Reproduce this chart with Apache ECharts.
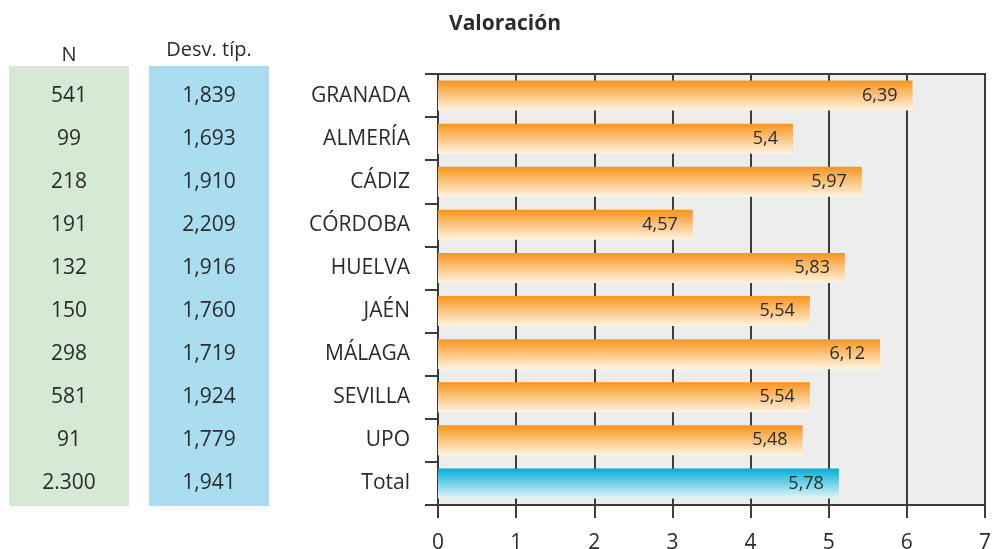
<!DOCTYPE html>
<html>
<head>
<meta charset="utf-8">
<script src="https://cdn.jsdelivr.net/npm/echarts@6/dist/echarts.min.js"></script>
<style>
  html, body { margin: 0; padding: 0; background: #fff; }
  #chart { width: 992px; height: 549px; }
</style>
</head>
<body>
<div id="chart"></div>
<script>
const categories = ['GRANADA', 'ALMERÍA', 'CÁDIZ', 'CÓRDOBA', 'HUELVA', 'JAÉN', 'MÁLAGA', 'SEVILLA', 'UPO', 'Total'];
const valoracion = [6.39, 5.4, 5.97, 4.57, 5.83, 5.54, 6.12, 5.54, 5.48, 5.78];
const nValues = ['541', '99', '218', '191', '132', '150', '298', '581', '91', '2.300'];
const desvValues = ['1,839', '1,693', '1,910', '2,209', '1,916', '1,760', '1,719', '1,924', '1,779', '1,941'];
const axisTicks = [0, 1, 2, 3, 4, 5, 6, 7];
const barScale = [2.46, 6.99];

const FONT = '"Open Sans", sans-serif';
const TXT = '#2b2b2b';
const LINE = '#3c3c3c';

const orangeGrad = new echarts.graphic.LinearGradient(0, 0, 0, 1, [
  { offset: 0, color: '#F8951C' },
  { offset: 1, color: '#FFF4E3' }
]);
const blueGrad = new echarts.graphic.LinearGradient(0, 0, 0, 1, [
  { offset: 0, color: '#00AED6' },
  { offset: 1, color: '#E4F5FB' }
]);

const chart = echarts.init(document.getElementById('chart'), null, { renderer: 'canvas' });

const gridLeft = 438, gridTop = 74, gridRight = 7, gridBottom = 44;

chart.setOption({
  animation: false,
  backgroundColor: '#ffffff',
  title: {
    text: 'Valoración',
    left: 500,
    textAlign: 'center',
    top: 9,
    textStyle: { fontFamily: FONT, fontWeight: 'bold', fontSize: 21, color: TXT }
  },
  graphic: [
    { type: 'rect', shape: { x: 9, y: 66, width: 120, height: 440 }, style: { fill: '#D5E9D5' }, z: -10 },
    { type: 'rect', shape: { x: 149, y: 66, width: 120, height: 440 }, style: { fill: '#AADDEF' }, z: -10 },
    { type: 'text', x: 69, y: 55, style: { text: 'N', fontFamily: FONT, fontSize: 20, fill: TXT, align: 'center', verticalAlign: 'middle' } },
    { type: 'text', x: 209, y: 50, style: { text: 'Desv. típ.', fontFamily: FONT, fontSize: 20, fill: TXT, align: 'center', verticalAlign: 'middle' } }
  ],
  grid: {
    left: gridLeft, top: gridTop, right: gridRight, bottom: gridBottom,
    outerBoundsMode: 'none',
    containLabel: false,
    show: true,
    backgroundColor: '#EDEDED',
    borderColor: LINE,
    borderWidth: 2
  },
  xAxis: [
    {
      type: 'value',
      min: axisTicks[0],
      max: axisTicks[axisTicks.length - 1],
      interval: 1,
      position: 'bottom',
      axisLine: { show: true, lineStyle: { color: LINE, width: 2 } },
      axisTick: { show: true, length: 13, lineStyle: { color: LINE, width: 2 } },
      splitLine: { show: true, lineStyle: { color: LINE, width: 2 } },
      axisLabel: { margin: 28, fontFamily: FONT, fontSize: 21, color: TXT }
    },
    {
      type: 'value',
      min: barScale[0],
      max: barScale[1],
      show: false,
      splitLine: { show: false }
    }
  ],
  yAxis: [
    {
      type: 'category',
      data: categories,
      inverse: true,
      position: 'left',
      axisLine: { show: true, lineStyle: { color: LINE, width: 2 } },
      axisTick: { show: true, length: 13, lineStyle: { color: LINE, width: 2 } },
      axisLabel: { margin: 28, fontFamily: FONT, fontSize: 21, color: TXT, padding: [5, 0, 0, 0] }
    },
    {
      type: 'category',
      data: nValues,
      inverse: true,
      position: 'left',
      axisLine: { show: false },
      axisTick: { show: false },
      splitLine: { show: false },
      axisLabel: { margin: gridLeft - 69, align: 'center', fontFamily: FONT, fontSize: 21, color: TXT, padding: [6, 0, 0, 0] }
    },
    {
      type: 'category',
      data: desvValues,
      inverse: true,
      position: 'left',
      axisLine: { show: false },
      axisTick: { show: false },
      splitLine: { show: false },
      axisLabel: { margin: gridLeft - 209, align: 'center', fontFamily: FONT, fontSize: 21, color: TXT, padding: [0, 0, 3, 0] }
    }
  ],
  series: [
    {
      type: 'bar',
      xAxisIndex: 1,
      yAxisIndex: 0,
      barWidth: 30,
      data: valoracion.map((v, i) => ({
        value: v,
        itemStyle: { color: categories[i] === 'Total' ? blueGrad : orangeGrad }
      })),
      label: {
        show: true,
        position: 'insideRight',
        distance: 15,
        fontFamily: FONT,
        fontSize: 18,
        color: TXT,
        padding: [2, 0, 0, 0],
        formatter: p => String(p.value).replace('.', ',')
      }
    }
  ]
});
</script>
</body>
</html>
